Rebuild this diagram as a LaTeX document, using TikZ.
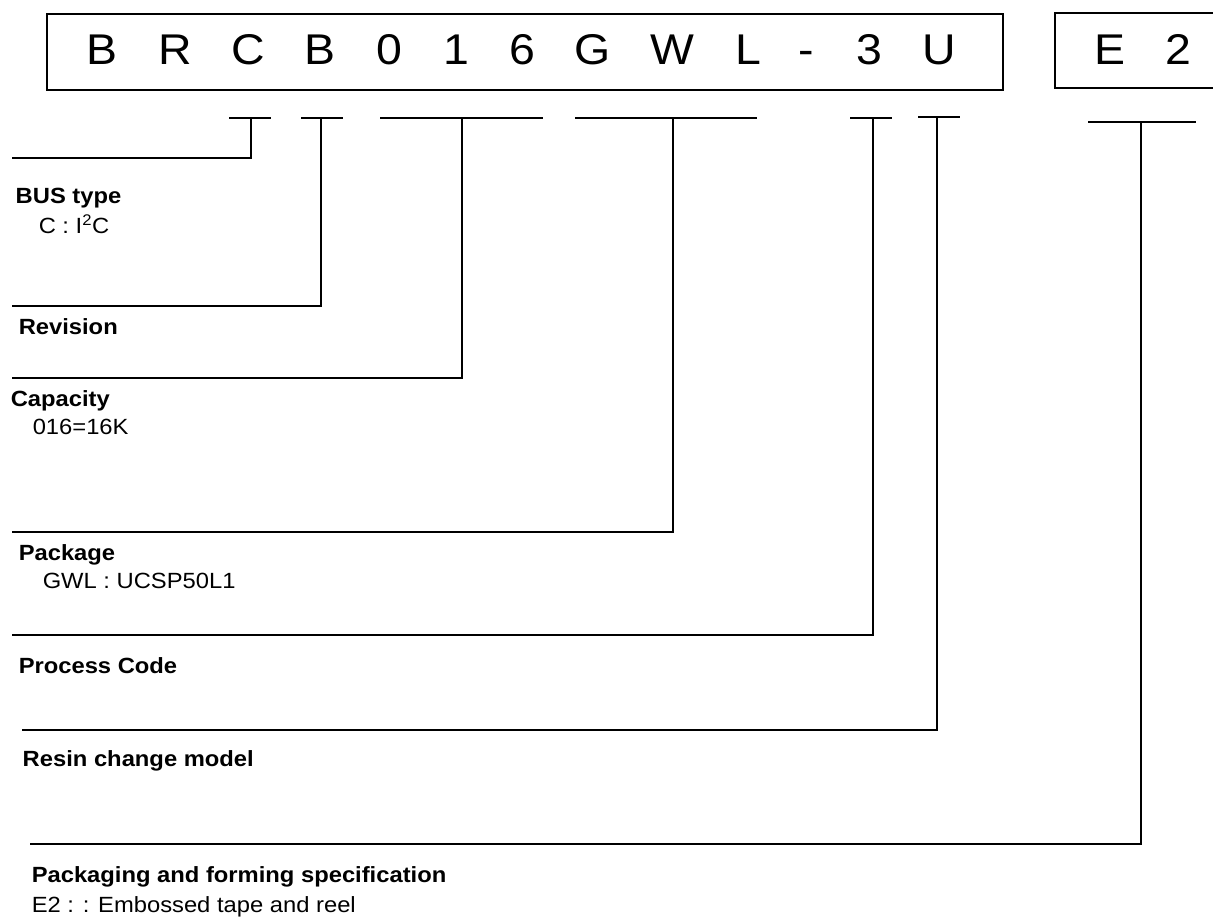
\documentclass[tikz,border=0pt]{standalone}
\usepackage{fontspec}
\setmainfont{Liberation Sans}[FakeStretch=1.08]
\begin{document}
\begin{tikzpicture}[x=1pt,y=-1pt,line width=1.5pt,
  big/.style={font=\fontsize{43}{50}\selectfont,inner sep=0pt,anchor=base},
  lbl/.style={font=\fontsize{22}{26}\selectfont\bfseries,inner sep=0pt,anchor=base west},
  val/.style={font=\fontsize{22}{26}\selectfont,inner sep=0pt,anchor=base west},
  frame/.style={draw,line width=1.5pt,inner sep=0pt,anchor=north west},
  bar/.style={line width=1.6pt},
  lead/.style={line width=1.6pt}]
\useasboundingbox (0,0) rectangle (1213,916);
% boxes
\node[frame,minimum width=956pt,minimum height=76pt] (box1) at (46,13) {};
\node[frame,minimum width=185pt,minimum height=75pt] (box2) at (1054,12) {};
% letters
\node[big] (l1) at (102,64) {B};
\node[big] (l2) at (175,64) {R};
\node[big] (l3) at (248,64) {C};
\node[big] (l4) at (320,64) {B};
\node[big] (l5) at (389,64) {0};
\node[big] (l6) at (456,64) {1};
\node[big] (l7) at (522,64) {6};
\node[big] (l8) at (593,64) {G};
\node[big] (l9) at (672,64) {W};
\node[big] (l10) at (748,64) {L};
\node[big] (l11) at (806,64) {-};
\node[big] (l12) at (869,64) {3};
\node[big] (l13) at (939,64) {U};
\node[big] (e1) at (1110,64) {E};
\node[big] (e2) at (1178,64) {2};
% bars
\coordinate (aL) at (229,118); \coordinate (aR) at (271,118); \coordinate (aM) at (251,118); \coordinate (aE) at (12,158);
\coordinate (bL) at (301,118); \coordinate (bR) at (343,118); \coordinate (bM) at (321,118); \coordinate (bE) at (12,306);
\coordinate (cL) at (380,118); \coordinate (cR) at (543,118); \coordinate (cM) at (462,118); \coordinate (cE) at (12,378);
\coordinate (dL) at (575,118); \coordinate (dR) at (757,118); \coordinate (dM) at (673,118); \coordinate (dE) at (12,532);
\coordinate (fL) at (850,118); \coordinate (fR) at (892,118); \coordinate (fM) at (873,118); \coordinate (fE) at (12,635);
\coordinate (gL) at (918,117); \coordinate (gR) at (960,117); \coordinate (gM) at (937,117); \coordinate (gE) at (22,730);
\coordinate (hL) at (1088,122); \coordinate (hR) at (1196,122); \coordinate (hM) at (1141,122); \coordinate (hE) at (30,844);
\foreach \k in {a,b,c,d,f,g,h}{
  \draw[bar] (\k L) -- (\k R);
  \draw[lead] (\k M) |- (\k E);
}
% labels
\node[lbl] (t1) at (15,203) {BUS type};
\node[val] (v1) at (38,233) {C : I\textsuperscript{2}C};
\node[lbl] (t2) at (18,334) {Revision};
\node[lbl] (t3) at (10,406) {Capacity};
\node[val] (v3) at (32,434) {016=16K};
\node[lbl] (t4) at (18,560) {Package};
\node[val] (v4) at (42,588) {GWL : UCSP50L1};
\node[lbl] (t5) at (18,673) {Process Code};
\node[lbl] (t6) at (22,766) {Resin change model};
\node[lbl] (t7) at (31,882) {Packaging and forming specification};
\node[val] (v7) at (31,912) {E2 : : Embossed tape and reel};
\end{tikzpicture}
\end{document}
